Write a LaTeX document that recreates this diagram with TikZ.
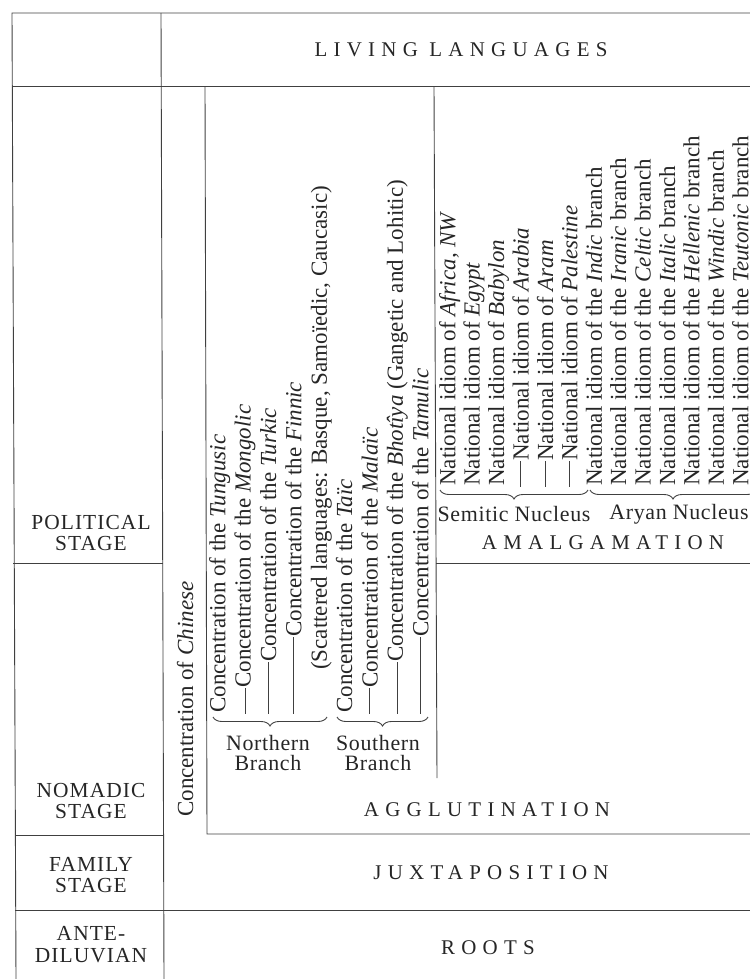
\documentclass[tikz,border=0pt]{standalone}
\usepackage{fontspec}
\setmainfont{Liberation Serif}
\usetikzlibrary{decorations.pathreplacing}
\begin{document}
\begin{tikzpicture}[x=1bp,y=-1bp,
  rule/.style={line width=0.9bp, draw=black!75},
  vtext/.style={rotate=90, anchor=base west, inner sep=0pt, text=black!85,
    font=\fontsize{23.1}{25}\selectfont},
  capl/.style={inner sep=0pt, text=black!85,
    font=\fontsize{21}{22}\selectfont\addfontfeature{LetterSpace=30}},
  stage/.style={inner sep=0pt, align=center, text=black!85,
    font=\fontsize{21.5}{22}\selectfont\addfontfeature{LetterSpace=5}},
  lbl/.style={inner sep=0pt, align=center, text=black!85,
    font=\fontsize{22}{21}\selectfont\addfontfeature{LetterSpace=3}},
  brc/.style={decorate, decoration={brace, amplitude=9bp}, line width=0.9bp, draw=black!75},
]
\useasboundingbox (0,0) rectangle (750,979);
\clip (0,0) rectangle (750,979);

% ---- frame and grid ----
\draw[rule] (750,13) -- (12,13) -- (16,979);
\draw[rule] (12,86) -- (750,86);
\draw[rule] (161,13) -- (164,979);
\draw[rule] (13,563) -- (162.5,563);
\draw[rule] (15,835) -- (164,835);
\draw[rule] (15,910) -- (750,910);
\draw[rule] (205,86) -- (207,834) -- (750,834);
\draw[rule] (434,86) -- (437,778);
\draw[rule] (436,563) -- (750,563);

% ---- stage labels ----
\node[stage] (pol) at (91,533) {POLITICAL\\STAGE};
\node[stage] (nom) at (91,801) {NOMADIC\\STAGE};
\node[stage] (fam) at (91,875) {FAMILY\\STAGE};
\node[stage] (ante) at (91,945) {ANTE-\\DILUVIAN};

% ---- main headings ----
\node[capl] (living) at (461,50) {LIVING LANGUAGES};
\node[capl] (amal) at (603,543) {AMALGAMATION};
\node[capl] (agg) at (487,810) {AGGLUTINATION};
\node[capl] (jux) at (491,873) {JUXTAPOSITION};
\node[capl] (roots) at (488,948) {ROOTS};

% ---- Chinese ----
\node[vtext] (chin) at (193,817) {Concentration of \textit{Chinese}};

% ---- Northern branch ----
\coordinate (nb) at (0,714);
\node[vtext] (tung) at (225.3,713) {Concentration of the \textit{Tungusic}};
\node[vtext] (mong) at (250.7,688) {Concentration of the \textit{Mongolic}};
\node[vtext] (turk) at (276.1,662) {Concentration of the \textit{Turkic}};
\node[vtext] (finn) at (301.4,637) {Concentration of the \textit{Finnic}};
\node[vtext] (scat) at (326.8,670) {(Scattered languages: Basque, Samoïedic, Caucasic)};
\draw[rule] (mong.west) -- (mong.west |- nb);
\draw[rule] (turk.west) -- (turk.west |- nb);
\draw[rule] (finn.west) -- (finn.west |- nb);

% ---- Southern branch ----
\node[vtext] (taic) at (352.2,713) {Concentration of the \textit{Taïc}};
\node[vtext] (mala) at (377.6,688) {Concentration of the \textit{Malaïc}};
\node[vtext] (bhot) at (402.9,662) {Concentration of the \textit{Bhotîya} (Gangetic and Lohitic)};
\node[vtext] (tamu) at (428.3,637) {Concentration of the \textit{Tamulic}};
\draw[rule] (mala.west) -- (mala.west |- nb);
\draw[rule] (bhot.west) -- (bhot.west |- nb);
\draw[rule] (tamu.west) -- (tamu.west |- nb);

% braces and branch labels
\coordinate (nbR) at (327,717);
\coordinate (nbL) at (213,717);
\coordinate (sbR) at (428,717);
\coordinate (sbL) at (337,717);
\draw[brc] (nbR) -- (nbL);
\draw[brc] (sbR) -- (sbL);
\node[lbl] (north) at (268,753) {Northern\\Branch};
\node[lbl] (south) at (378,753) {Southern\\Branch};

% ---- Semitic nucleus ----
\coordinate (sb) at (0,487);
\node[vtext] (afr) at (455.3,486) {National idiom of \textit{Africa, NW}};
\node[vtext] (egy) at (479.7,486) {National idiom of \textit{Egypt}};
\node[vtext] (bab) at (504.1,486) {National idiom of \textit{Babylon}};
\node[vtext] (arab) at (528.5,461) {National idiom of \textit{Arabia}};
\node[vtext] (aram) at (553.0,461) {National idiom of \textit{Aram}};
\node[vtext] (pal) at (577.4,461) {National idiom of \textit{Palestine}};
\draw[rule] (arab.west) -- (arab.west |- sb);
\draw[rule] (aram.west) -- (aram.west |- sb);
\draw[rule] (pal.west) -- (pal.west |- sb);

% ---- Aryan nucleus ----
\node[vtext] (indic) at (601.8,486) {National idiom of the \textit{Indic} branch};
\node[vtext] (iran) at (626.2,486) {National idiom of the \textit{Iranic} branch};
\node[vtext] (celt) at (650.6,486) {National idiom of the \textit{Celtic} branch};
\node[vtext] (ital) at (675.0,486) {National idiom of the \textit{Italic} branch};
\node[vtext] (hell) at (699.4,486) {National idiom of the \textit{Hellenic} branch};
\node[vtext] (wind) at (723.9,486) {National idiom of the \textit{Windic} branch};
\node[vtext] (teut) at (748.3,486) {National idiom of the \textit{Teutonic} branch};

\coordinate (smR) at (588,490);
\coordinate (smL) at (440,490);
\coordinate (arR) at (756,490);
\coordinate (arL) at (590,490);
\draw[brc] (smR) -- (smL);
\draw[brc] (arR) -- (arL);
\node[lbl] (semn) at (514,514) {Semitic Nucleus};
\node[lbl] (aryn) at (679,514) {Aryan Nucleus};
\end{tikzpicture}
\end{document}
